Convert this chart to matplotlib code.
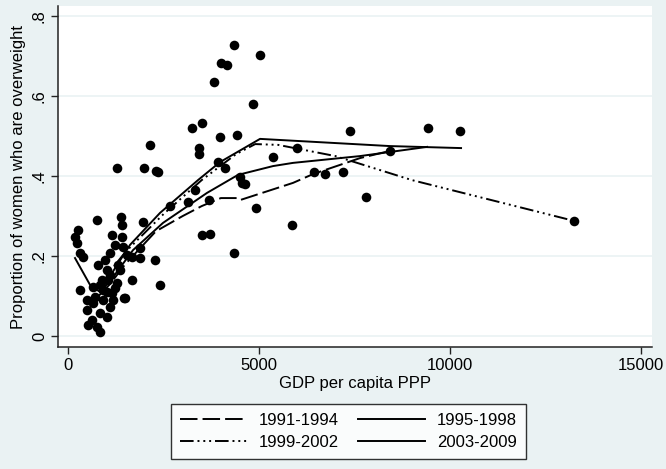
import matplotlib
matplotlib.use('Agg')
import matplotlib.pyplot as plt

plt.rcParams['font.family'] = ['Liberation Sans', 'DejaVu Sans']

# scatter: GDP per capita PPP vs share of women overweight
gdp = [4346, 5026, 4005, 4162, 3822, 4843, 3246, 3508, 3979, 4424,
       3430, 3430, 1283, 1990, 2304, 2356, 2147, 3927, 4110, 4503,
       4555, 4634, 3325, 5366, 5995, 7382, 9425, 10262, 8430, 6440,
       6728, 7199, 7801, 13246, 3142, 2670, 3691, 4922, 5864, 3508,
       3717, 4346, 1885, 1885,
       759, 1388, 1414, 1963, 262, 183, 236, 314, 1152, 1414,
       1230, 1440, 1100, 1545, 1675, 2278, 1675, 2409, 314, 1492,
       1021, 890, 655, 497, 655, 916, 1100, 838, 1021, 628,
       759, 838, 1178, 1152, 916, 497, 707, 1047, 1283, 838,
       785, 969, 1309, 1100, 1361, 524, 1466, 393, 1230, 1010]
share = [0.728, 0.703, 0.683, 0.678, 0.635, 0.580, 0.520, 0.533, 0.497, 0.503,
         0.470, 0.455, 0.420, 0.420, 0.413, 0.410, 0.478, 0.435, 0.420, 0.398,
         0.383, 0.380, 0.365, 0.448, 0.470, 0.513, 0.520, 0.513, 0.463, 0.410,
         0.405, 0.410, 0.348, 0.288, 0.335, 0.325, 0.340, 0.320, 0.278, 0.253,
         0.255, 0.208, 0.220, 0.195,
         0.290, 0.298, 0.278, 0.285, 0.265, 0.248, 0.233, 0.208, 0.253, 0.248,
         0.228, 0.223, 0.208, 0.203, 0.198, 0.190, 0.140, 0.128, 0.115, 0.095,
         0.165, 0.140, 0.123, 0.090, 0.083, 0.090, 0.073, 0.058, 0.048, 0.040,
         0.023, 0.010, 0.090, 0.108, 0.115, 0.065, 0.098, 0.140, 0.133, 0.128,
         0.178, 0.190, 0.178, 0.153, 0.165, 0.028, 0.095, 0.198, 0.120, 0.110]

# smoothed curves per period
x_9194 = [800, 1100, 1500, 2300, 3000, 3500, 4000, 4424, 4503, 5890, 6414, 7644, 8430]
y_9194 = [0.100, 0.130, 0.180, 0.262, 0.300, 0.325, 0.345, 0.345, 0.340, 0.383, 0.405, 0.445, 0.463]
x_9598 = [850, 1200, 1702, 2487, 3639, 4450, 5366, 5890, 7644, 9400]
y_9598 = [0.110, 0.150, 0.215, 0.283, 0.358, 0.403, 0.425, 0.433, 0.450, 0.473]
x_9902 = [700, 1000, 1500, 2500, 3500, 4400, 4900, 5500, 7000, 9000, 13246]
y_9902 = [0.120, 0.150, 0.210, 0.305, 0.390, 0.455, 0.480, 0.478, 0.450, 0.390, 0.288]
x_0309 = [183, 576, 840, 1100, 1623, 2409, 3403, 3979, 5026, 8430, 10288]
y_0309 = [0.195, 0.128, 0.110, 0.150, 0.228, 0.308, 0.390, 0.435, 0.493, 0.475, 0.470]

bg = '#eaf2f3'
fig = plt.figure(figsize=(6.66, 4.69), dpi=100, facecolor=bg)
ax = fig.add_axes([0.0871, 0.260, 0.892, 0.727])
ax.set_facecolor('white')

ax.scatter(gdp, share, s=48, color='black', zorder=3, linewidths=0)
lw = 1.4
l1, = ax.plot(x_9194, y_9194, color='black', lw=lw, ls=(0, (9, 2.6)), label='1991-1994')
l2, = ax.plot(x_9598, y_9598, color='black', lw=lw, ls='-', label='1995-1998')
l3, = ax.plot(x_9902, y_9902, color='black', lw=lw, ls=(0, (7, 2, 1, 2, 1, 2, 1, 2)), label='1999-2002')
l4, = ax.plot(x_0309, y_0309, color='black', lw=lw, ls='-', label='2003-2009')

ax.set_xlim(-262, 15288)
ax.set_ylim(-0.0275, 0.825)
ax.set_xticks([0, 5000, 10000, 15000])
ax.set_yticks([0, 0.2, 0.4, 0.6, 0.8])
ax.set_yticklabels(['0', '.2', '.4', '.6', '.8'], rotation=90, va='center')
ax.yaxis.grid(True, color=bg, lw=1.2)
ax.set_axisbelow(True)
for s in ['top', 'right']:
    ax.spines[s].set_visible(False)
for s in ['left', 'bottom']:
    ax.spines[s].set_color('#222222')
    ax.spines[s].set_linewidth(1.1)
ax.tick_params(labelsize=12, length=5, width=1, color='#222222', pad=3)
ax.set_xlabel('GDP per capita PPP', fontsize=12, labelpad=2)
ax.set_ylabel('Proportion of women who are overweight', fontsize=12, labelpad=4)

leg = fig.legend([l1, l3, l2, l4], ['1991-1994', '1999-2002', '1995-1998', '2003-2009'],
                 ncol=2, loc='center', bbox_to_anchor=(0.523, 0.08), fontsize=12,
                 frameon=True, fancybox=False, handlelength=4, columnspacing=1.2,
                 borderpad=0.55, labelspacing=0.45, handletextpad=0.7)
leg.get_frame().set_edgecolor('black')
leg.get_frame().set_linewidth(1)

fig.savefig('out.png', dpi=100, facecolor=fig.get_facecolor())
